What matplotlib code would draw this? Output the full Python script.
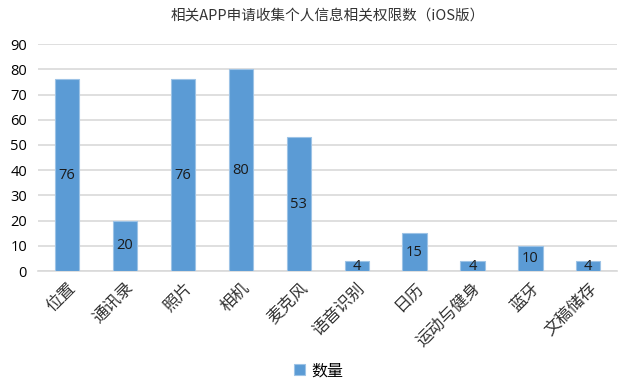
import matplotlib
matplotlib.use("Agg")
import matplotlib.pyplot as plt
import numpy as np

plt.rcParams['font.family'] = ['Noto Sans CJK SC', 'DejaVu Sans']

categories = ["位置", "通讯录", "照片", "相机", "麦克风", "语音识别", "日历", "运动与健身", "蓝牙", "文稿储存"]
counts = [76, 20, 76, 80, 53, 4, 15, 4, 10, 4]
yticks = list(range(0, 91, 10))

bar_color = "#5B9BD5"
grid_color = "#D9D9D9"

fig = plt.figure(figsize=(6.37, 3.83), dpi=100)
ax = fig.add_axes([0.06, 0.292, 0.909, 0.593])

x = np.arange(len(categories))
bars = ax.bar(x, counts, width=0.42, color=bar_color, edgecolor="#9DC3E6",
              linewidth=0.8, zorder=3, label="数量")

for xi, v in zip(x, counts):
    ax.text(xi, v / 2, str(v), ha="center", va="center", fontsize=10.5,
            family=["Open Sans", "DejaVu Sans"], color="#1a1a1a", zorder=4)

ax.set_xlim(-0.5, len(categories) - 0.5)
ax.set_ylim(0, 90)
ax.set_yticks(yticks)
ax.set_yticklabels([str(t) for t in yticks], family=["Open Sans", "DejaVu Sans"], fontsize=10.5)
ax.yaxis.grid(True, color=grid_color, linewidth=1.2, zorder=0)
ax.set_axisbelow(True)

for s in ["top", "right", "left"]:
    ax.spines[s].set_visible(False)
ax.spines["bottom"].set_color(grid_color)
ax.spines["bottom"].set_linewidth(1.2)
ax.tick_params(axis="both", length=0)
ax.tick_params(axis="y", pad=8)
ax.tick_params(axis="x", pad=6)

ax.set_xticks(x)
ax.set_xticklabels(categories, rotation=45, ha="right", rotation_mode="anchor",
                   fontsize=12, color="#333333")

ax.set_title("相关APP申请收集个人信息相关权限数（iOS版）", fontsize=10.5,
             color="#333333", pad=17)

fig.legend(handles=[bars], labels=["数量"], loc="center", bbox_to_anchor=(0.5, 0.032),
           frameon=False, fontsize=11.5, handlelength=0.7, handleheight=0.7,
           handletextpad=0.4)

fig.savefig("out.png", dpi=100)
